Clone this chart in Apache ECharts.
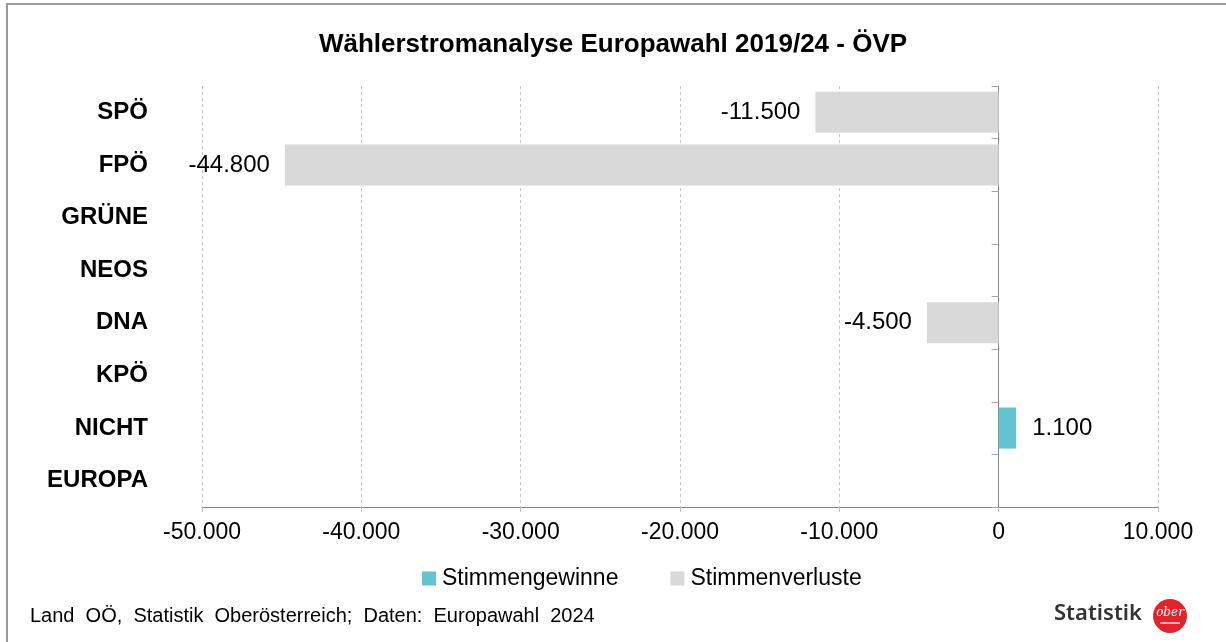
<!DOCTYPE html>
<html>
<head>
<meta charset="utf-8">
<script src="https://cdn.jsdelivr.net/npm/echarts@6/dist/echarts.min.js"></script>
<style>
  html, body { margin: 0; padding: 0; background: #fff; }
  #chart { width: 1226px; height: 642px; }
</style>
</head>
<body>
<div id="chart"></div>
<script>
// Wählerstromanalyse ÖVP – Daten
const parteien = ['SPÖ', 'FPÖ', 'GRÜNE', 'NEOS', 'DNA', 'KPÖ', 'NICHT', 'EUROPA'];
const gewinne = [null, null, null, null, null, null, 1100, null];
const verluste = [-11500, -44800, null, null, -4500, null, null, null];
const xTicks = { min: -50000, max: 10000, interval: 10000 };

const fmt = (v) => {
  const s = Math.abs(v).toFixed(0).replace(/\B(?=(\d{3})+(?!\d))/g, '.');
  return (v < 0 ? '-' : '') + s;
};

const FONT = '"Liberation Sans", Arial, sans-serif';

const chart = echarts.init(document.getElementById('chart'));

const option = {
  backgroundColor: '#fff',
  textStyle: { fontFamily: FONT, color: '#000' },
  title: {
    text: 'Wählerstromanalyse Europawahl 2019/24 - ÖVP',
    left: 'center',
    top: 27,
    textStyle: { fontFamily: FONT, fontSize: 26, fontWeight: 'bold', color: '#000' }
  },
  legend: {
    bottom: 47,
    left: 417,
    itemWidth: 14,
    itemHeight: 14,
    itemGap: 52,
    icon: 'rect',
    textStyle: { fontFamily: FONT, fontSize: 23, color: '#000', padding: [0, 0, 0, 1] },
    data: ['Stimmengewinne', 'Stimmenverluste']
  },
  grid: { left: 202, right: 68, top: 86, bottom: 135 },
  xAxis: {
    type: 'value',
    min: xTicks.min,
    max: xTicks.max,
    interval: xTicks.interval,
    axisLine: { show: true, onZero: false, lineStyle: { color: '#868686', width: 1 } },
    axisTick: { show: true, length: 5, lineStyle: { color: '#bfbfbf' } },
    splitLine: { show: true, lineStyle: { color: '#c4c4c4', type: [3, 3], width: 1 } },
    axisLabel: { formatter: fmt, fontSize: 23, color: '#000', margin: 14, fontFamily: FONT }
  },
  yAxis: [
    {
      type: 'category',
      inverse: true,
      data: parteien,
      axisLine: { show: false, onZero: false },
      axisTick: { show: false },
      axisLabel: { fontSize: 24, fontWeight: 'bold', color: '#000', margin: 54, fontFamily: FONT }
    },
    {
      // Nulllinie mit Trennstrichen
      type: 'category',
      inverse: true,
      data: parteien,
      position: 'left',
      axisLine: { show: true, onZero: true, lineStyle: { color: '#868686', width: 1 } },
      axisTick: { show: true, length: 7, lineStyle: { color: '#a6a6a6' } },
      axisLabel: { show: false },
      splitLine: { show: false }
    }
  ],
  series: [
    {
      name: 'Stimmengewinne',
      type: 'bar',
      stack: 'strom',
      yAxisIndex: 0,
      barCategoryGap: '22%',
      data: gewinne,
      itemStyle: { color: '#63c4d0' },
      label: {
        show: true, position: 'right', distance: 16,
        fontSize: 24, color: '#000', fontFamily: FONT,
        formatter: (p) => fmt(p.value)
      }
    },
    {
      name: 'Stimmenverluste',
      type: 'bar',
      stack: 'strom',
      yAxisIndex: 0,
      barCategoryGap: '22%',
      data: verluste,
      itemStyle: { color: '#d9d9d9' },
      label: {
        show: true, position: 'left', distance: 15,
        fontSize: 24, color: '#000', fontFamily: FONT,
        formatter: (p) => fmt(p.value)
      }
    }
  ],
  graphic: [
    {
      type: 'rect', silent: true, z: -1,
      shape: { x: 7, y: 4, width: 1300, height: 700 },
      style: { fill: 'none', stroke: '#9a9a9a', lineWidth: 2 }
    },
    {
      type: 'text', left: 30, top: 606,
      style: {
        text: 'Land  OÖ,  Statistik  Oberösterreich;  Daten:  Europawahl  2024',
        font: '20px ' + FONT, fill: '#000'
      }
    },
    {
      type: 'text', left: 1054, top: 603,
      style: { text: 'Statistik', font: '600 22px "Noto Sans", sans-serif', fill: '#333' }
    },
    {
      type: 'circle', shape: { cx: 1170, cy: 616, r: 17 },
      style: { fill: '#e2232b' }
    },
    {
      type: 'text', x: 1170, y: 613,
      style: {
        text: 'ober', font: 'italic 12px "DejaVu Serif", serif', fill: '#fff',
        align: 'center', verticalAlign: 'middle'
      }
    },
    {
      type: 'rect', shape: { x: 1160, y: 622, width: 20, height: 2 },
      style: { fill: '#f3b5b7' }
    }
  ]
};

chart.setOption(option);
window.addEventListener('resize', () => chart.resize());
</script>
</body>
</html>
